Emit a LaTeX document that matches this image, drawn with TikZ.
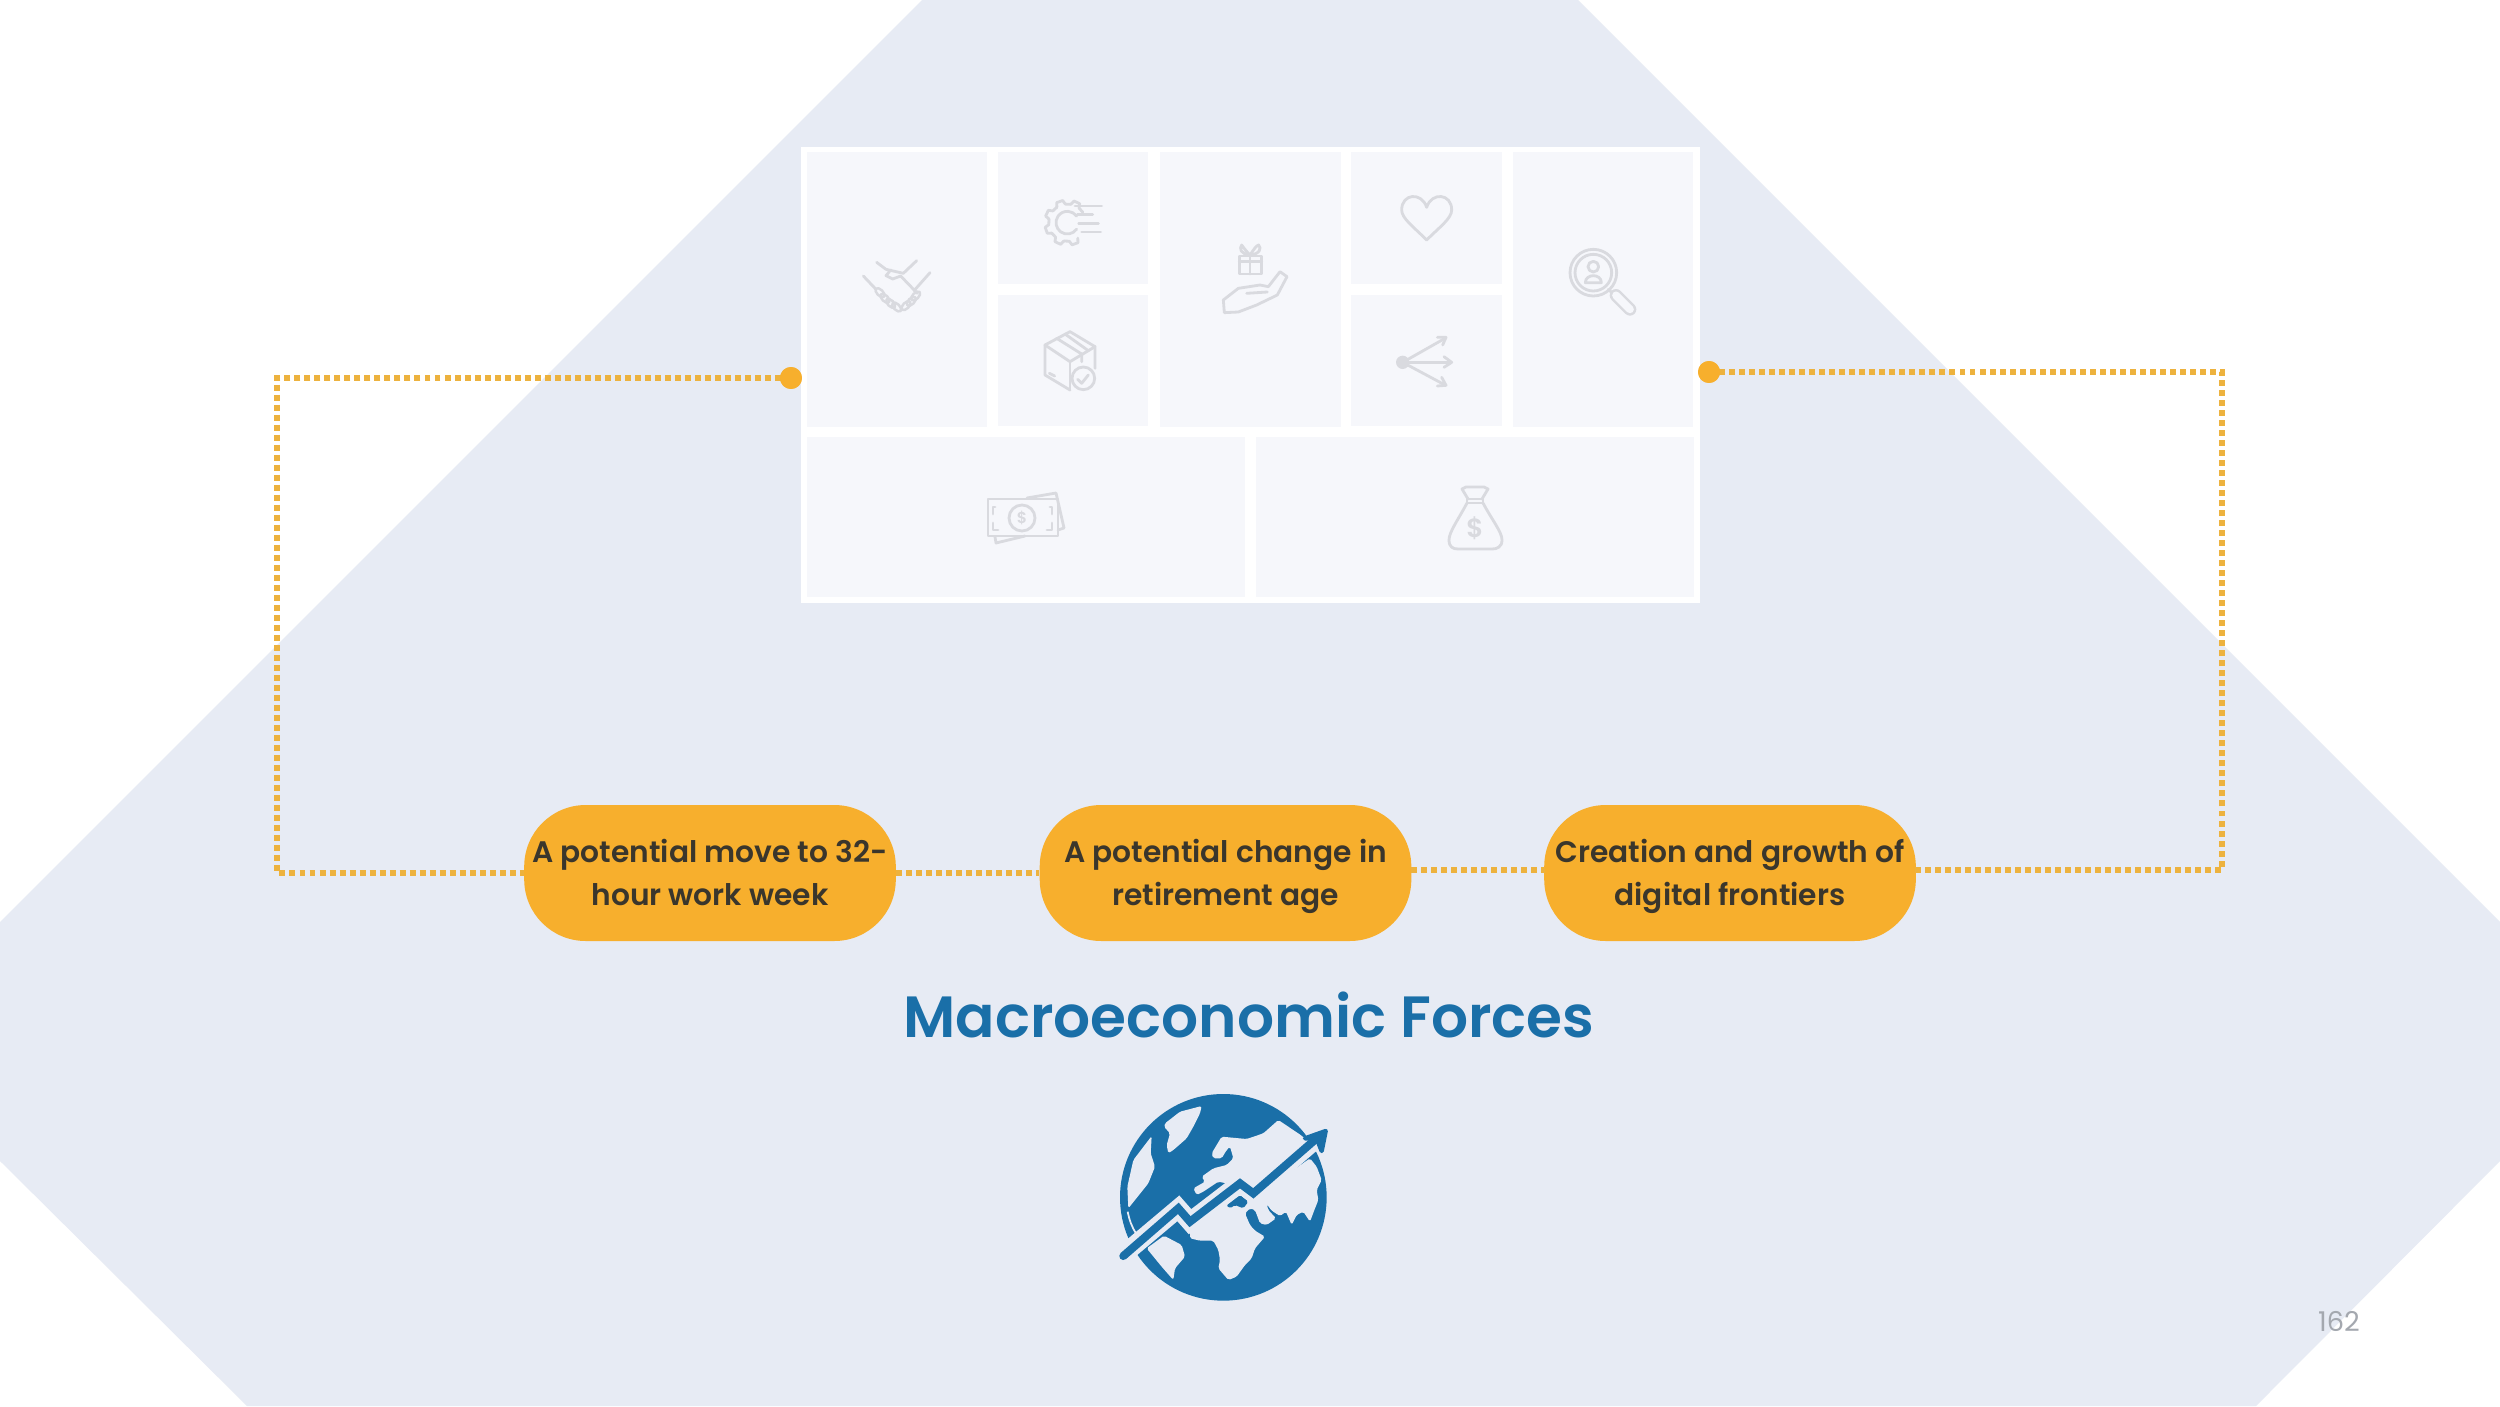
\documentclass[tikz,border=0pt]{standalone}
\usepackage{fontspec}
\newfontfamily\popm{Poppins SemiBold}
\newfontfamily\popr{Poppins}
\definecolor{bgpoly}{HTML}{E7EBF4}
\definecolor{cellc}{HTML}{F6F7FB}
\definecolor{iconc}{HTML}{D9DADF}
\definecolor{gold}{HTML}{F7AF2D}
\definecolor{dotline}{HTML}{EDB23E}
\definecolor{blueT}{HTML}{1A6FA8}
\definecolor{darkT}{HTML}{3A362C}
\definecolor{numc}{HTML}{A4A8AF}
\tikzset{
 cell/.style={fill=cellc,draw=none},
 icn/.style={draw=iconc,line width=1.6pt,line join=round,line cap=round,fill=none},
 pill/.style={fill=gold,draw=none,rounded corners=35pt,minimum width=211.5pt,minimum height=77.4pt,inner sep=0pt},
 pilltext/.style={font=\popm\fontsize{16.9}{24.5}\selectfont,text=darkT,align=center,inner sep=0pt,anchor=center,yshift=-1.7pt},
 conn/.style={draw=dotline,line width=3.4pt,dash pattern=on 3.4pt off 2.3pt},
 enddot/.style={circle,fill=gold,draw=none,minimum size=12.5pt,inner sep=0pt},
 land/.style={fill=bgpoly,draw=none,rounded corners=1pt},
 sea/.style={fill=blueT,draw=none,rounded corners=1pt},
}
\newcommand{\ph}{\vphantom{Apg}}
\begin{document}
\begin{tikzpicture}[x=0.02cm,y=-0.02cm]
\useasboundingbox (0,0) rectangle (2500,1406);
\fill[white] (0,0) rectangle (2500,1406);
\fill[bgpoly] (922,0)--(1578,0)--(2500,922)--(2500,1161)--(2256,1406)--(247,1406)--(0,1161)--(0,922)--cycle;
% panel
\node[fill=white,draw=none,minimum width=511.5pt,minimum height=259.5pt,inner sep=0pt] (panel) at (1250.5,375) {};
\fill[cell] (807,152) rectangle (987,427);
\fill[cell] (998,152) rectangle (1148,284);
\fill[cell] (998,295) rectangle (1148,426);
\fill[cell] (1160,152) rectangle (1341,427);
\fill[cell] (1351,152) rectangle (1502,284);
\fill[cell] (1351,295) rectangle (1502,426);
\fill[cell] (1513,152) rectangle (1693,427);
\fill[cell] (807,437) rectangle (1245,597);
\fill[cell] (1256,437) rectangle (1694,597);
% icons, zoom 1 coordinates
\begin{scope}[shift={(780,130)},scale=0.33333]
 % handshake
 \draw[icn] (250,438)--(288,478);
 \draw[icn] (450,428)--(402,482);
 \draw[icn] (290,397)--(318,418)--(370,430)--(410,392);
 \draw[icn] (412,490)--(362,438)--(338,447)--(318,437)--(332,420);
 \foreach \p/\q in {300/488,315/505,332/520,350/531}
  \draw[icn,line width=1.4pt,rotate around={-45:(\p,\q)}] (\p,\q) ellipse (17 and 9);
 \foreach \p/\q in {378/527,394/514,407/498}
  \draw[icn,line width=1.4pt,rotate around={45:(\p,\q)}] (\p,\q) ellipse (17 and 9);
 % gear
 \begin{scope}[shift={(862,278)}]
  \draw[icn] (35:34) arc (35:325:34);
  \foreach \a in {70,115,160,205,250,295}
   \draw[icn] (\a-14:56)--(\a-8:68)--(\a+8:68)--(\a+14:56) arc (\a+14:\a+31:56);
 \end{scope}
 \draw[icn] (885,228)--(965,228);
 \draw[icn] (892,253)--(938,253);
 \draw[icn] (896,280)--(955,280);
 \draw[icn] (905,306)--(962,306);
 % box
 \draw[icn] (795,645)--(870,605)--(945,650)--(945,715);
 \draw[icn] (795,645)--(795,735)--(870,780);
 \draw[icn] (795,645)--(870,695)--(945,650);
 \draw[icn] (870,695)--(870,780);
 \draw[icn] (830,625)--(905,672)--(905,695);
 \draw[icn] (855,612)--(925,662);
 \draw[icn] (808,730)--(824,738);
 \draw[icn] (910,745) circle (34);
 \draw[icn] (893,748)--(905,760)--(925,735);
 % gift on hand
 \draw[icn] (1378,378) rectangle (1445,432);
 \draw[icn] (1410,378)--(1410,432);
 \draw[icn] (1378,395)--(1445,395);
 \draw[icn] (1410,375) .. controls (1395,360) and (1385,345) .. (1385,345) .. controls (1378,355) and (1380,372) .. (1410,375) .. controls (1440,372) and (1445,355) .. (1436,345) .. controls (1430,345) and (1420,360) .. (1410,375);
 \draw[icn] (1333,548)--(1330,510)--(1375,475)--(1440,465)--(1465,470)--(1500,425)--(1521,440)--(1492,495)--(1430,525)--(1375,546)--cycle;
 \draw[icn] (1400,490)--(1462,486);
\end{scope}
% icons, zoom 2 coordinates
\begin{scope}[shift={(1280,130)},scale=0.33333]
 % heart
 \draw[icn] (440,330) .. controls (400,290) and (365,265) .. (365,240)
   .. controls (365,190) and (425,185) .. (440,232)
   .. controls (455,185) and (515,190) .. (515,240)
   .. controls (515,265) and (480,290) .. (440,330) -- cycle;
 % share
 \fill[iconc] (368,697) circle (20);
 \draw[icn] (368,697)--(495,625);
 \draw[icn] (368,697)--(512,697);
 \draw[icn] (368,697)--(495,765);
 \draw[icn] (472,622)--(498,622)--(488,645);
 \draw[icn] (492,680)--(515,697)--(492,712);
 \draw[icn] (472,768)--(498,766)--(485,742);
 % magnifier
 \draw[icn] (940,428) circle (70);
 \draw[icn] (940,428) circle (55);
 \draw[icn] (940,410) circle (16);
 \draw[icn] (916,458) .. controls (916,430) and (964,430) .. (964,458) -- cycle;
 \draw[icn] (985,478)--(1000,492);
 \draw[iconc,line width=7.2pt,line cap=round] (1008,496)--(1050,538);
 \draw[cellc,line width=4.4pt,line cap=round] (1008,496)--(1050,538);
\end{scope}
% money
\draw[icn] (988,499) rectangle (1058,536);
\draw[icn] (1022,518) circle (13);
\node[font=\popm\fontsize{9}{9}\selectfont,text=iconc,inner sep=0pt] (moneysign) at (1022,518) {\$};
\draw[icn] (995,507)--(993,507)--(993,514);
\draw[icn] (1050,507)--(1052,507)--(1052,514);
\draw[icn] (993,523)--(993,530)--(998,530);
\draw[icn] (1052,523)--(1052,530)--(1047,530);
\draw[icn] (1027,498)--(1056,493)--(1064,528)--(1058,530);
\draw[icn] (995,537)--(996,543)--(1025,536);
% bag
\draw[icn] (1467,503) .. controls (1458,520) and (1449,532) .. (1449,540) .. controls (1449,547) and (1453,549) .. (1458,549)
 -- (1492,549) .. controls (1497,549) and (1502,547) .. (1502,540) .. controls (1502,532) and (1492,520) .. (1483,503);
\draw[icn] (1467,503) rectangle (1483,499);
\draw[icn] (1468,499)--(1462,489)--(1466,487)--(1484,487)--(1488,489)--(1482,499);
\node[font=\popm\fontsize{15}{15}\selectfont,text=iconc,inner sep=0pt] (bagsign) at (1475,528) {\$};
% connectors
\node[pill] (p1) at (710,873) {};
\node[pill] (p2) at (1225.5,873) {};
\node[pill] (p3) at (1730,873) {};
\node[enddot] (dotL) at (791,378) {};
\node[enddot] (dotR) at (1709,372) {};
\coordinate (cL) at (277,378);
\coordinate (cR) at (2222,372);
\coordinate (p2r) at (1411,870);
\coordinate (p3l) at (1545,870);
\coordinate (p3r) at (1915,870);
\draw[conn] (dotL.center) -- (cL) -- (cL|-p1) -- (p1.west);
\draw[conn] (p1.east) -- (p2.west);
\draw[conn] (p2r) -- (p3l);
\draw[conn] (p3r) -- (cR|-p3r) -- (cR) -- (dotR.center);
\node[enddot] at (dotL) {};
\node[enddot] at (dotR) {};
\node[pilltext] (t1) at (p1) {\ph A potential move to 32-\\\ph hour work week};
\node[pilltext] (t2) at (p2) {\ph A potential change in\\\ph retirement age};
\node[pilltext] (t3) at (p3) {\ph Creation and growth of\\\ph digital frontiers};
\node[font=\popm\fontsize{33.1}{38}\selectfont,text=blueT,inner sep=0pt] (title) at (1249,1015) {Macroeconomic Forces};
\node[font=\popr\fontsize{15.5}{18}\selectfont,text=numc,inner sep=0pt] (pageno) at (2339,1321) {162};
% globe
\begin{scope}[shift={(1090,1070)},scale=0.33333]
 \fill[blueT] (400,382) circle (310);
 \fill[land] (225,160)--(270,125)--(335,108)--(330,130)--(310,170)--(290,205)--(250,240)--(235,250)--(230,225)--(240,190)--(222,170)--cycle;
 \fill[land] (185,198)--(182,250)--(195,290)--(175,340)--(115,415)--(112,350)--(130,270)--cycle;
 \fill[land] (365,250)--(395,200)--(470,207)--(520,190)--(565,150)--(632,195)--(650,210)--(490,350)--(450,315)--(410,340)--(385,335)--(340,365)--(320,375)--(310,355)--(345,335)--(335,320)--(370,295)--(410,285)--(430,265)--(420,230)--(410,240)--(395,265)--(370,265)--cycle;
 \fill[land] (300,480)--(455,365)--(490,385)--(660,265)--(680,290)--(695,330)--(680,360)--(685,390)--(675,415)--(660,455)--(640,425)--(620,435)--(605,465)--(588,425)--(570,438)--(545,422)--(530,402)--(535,420)--(558,445)--(530,465)--(510,460)--(495,420)--(480,415)--(465,430)--(480,465)--(495,482)--(525,500)--(495,535)--(485,565)--(465,585)--(440,620)--(415,630)--(385,595)--(390,570)--(385,540)--(370,512)--(330,512)--(300,505)--cycle;
 \fill[sea] (408,405)--(450,375)--(475,395)--(460,415)--(435,405)--(420,415)--cycle;
 \fill[land] (170,535)--(222,497)--(275,525)--(285,560)--(255,595)--(250,630)--(215,590)--cycle;
 \draw[bgpoly,line width=1pt] (113,425) .. controls (118,450) and (125,470) .. (138,490);
 \draw[bgpoly,line width=10.5pt,line join=miter] (95,558)--(265,415)--(300,455)--(450,340)--(490,370)--(675,210);
 \draw[blueT,line width=4.6pt,line join=miter,line cap=round] (100,558)--(265,415)--(300,455)--(450,340)--(490,370)--(680,205);
 \fill[blueT,draw=blueT,line width=2.5pt,line join=round] (645,205)--(707,183)--(695,243)--(680,205)--cycle;
\end{scope}
\end{tikzpicture}
\end{document}
